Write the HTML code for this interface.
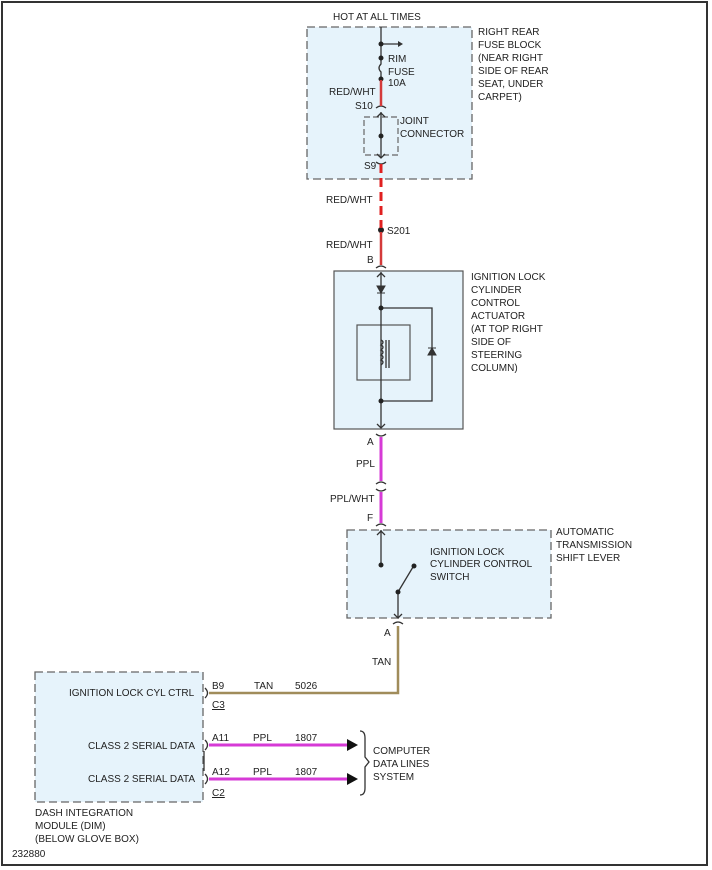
<!DOCTYPE html>
<html><head><meta charset="utf-8"><style>
html,body{margin:0;padding:0;background:#fff;}
svg{display:block;}
text{font-family:"Liberation Sans",Arial,sans-serif;font-size:10px;fill:#222;}
</style></head><body>
<svg width="712" height="870" viewBox="0 0 712 870" xmlns="http://www.w3.org/2000/svg">
<rect x="2" y="2" width="705" height="863" fill="#fff" stroke="#333" stroke-width="2"/>
<g fill="#e6f3fb" stroke="#666" stroke-width="1.3" stroke-dasharray="8,4">
<rect x="307" y="27" width="165" height="152"/>
<rect x="347" y="530" width="204" height="88"/>
<rect x="35" y="672" width="168" height="130"/>
</g>
<rect x="334" y="271" width="129" height="158" fill="#e6f3fb" stroke="#555" stroke-width="1.2"/>
<rect x="364" y="117" width="34" height="38" fill="none" stroke="#666" stroke-width="1.2" stroke-dasharray="6,3"/>
<rect x="357" y="325" width="53" height="55" fill="none" stroke="#555" stroke-width="1.2"/>
<!-- black wiring -->
<g stroke="#333" stroke-width="1.3" fill="none">
<line x1="381" y1="27" x2="381" y2="58"/>
<line x1="381" y1="44" x2="398" y2="44"/>
<path d="M381 58 L381 64 Q377 68 381 72 L381 79"/>
<line x1="381" y1="112" x2="381" y2="158"/>
<path d="M377 117 L381 113 L385 117 M377 154 L381 158 L385 154"/>
<path d="M376 108 Q381 104 386 108 M376 162 Q381 166 386 162"/>
<path d="M376 268 Q381 264 386 268"/>
<line x1="381" y1="272" x2="381" y2="428"/>
<path d="M377 277 L381 273 L385 277 M377 424 L381 428 L385 424"/>
<path d="M381 308 L432 308 L432 401 L381 401"/>
<path d="M381 340 q4 2 0 5 q4 2 0 5 q4 2 0 5 q4 2 0 5 q4 2 0 5"/>
<line x1="386" y1="340" x2="386" y2="368"/><line x1="389" y1="340" x2="389" y2="368"/>
<path d="M376 434 Q381 438 386 434"/>
<path d="M376 484 Q381 480 386 484 M376 489 Q381 493 386 489"/>
<path d="M376 526 Q381 522 386 526"/>
<line x1="381" y1="530" x2="381" y2="565"/>
<path d="M377 535 L381 531 L385 535"/>
<line x1="398" y1="592" x2="413" y2="567"/>
<line x1="398" y1="592" x2="398" y2="618"/>
<path d="M394 614 L398 618 L402 614"/>
<path d="M393 624 Q398 620 403 624"/>
<path d="M205 688 Q210 693 205 698"/>
<path d="M205 740 Q210 745 205 750 M205 774 Q210 779 205 784"/>
<line x1="204" y1="751" x2="204" y2="771"/>
<path d="M360 731 Q365 731 365 738 L365 757 L369 762 L365 767 L365 788 Q365 795 360 795"/>
</g>
<path d="M377 286 L385 286 L381 293 Z M377 293 L385 293" fill="#333" stroke="#333"/>
<path d="M428 355 L436 355 L432 348 Z M428 348 L436 348" fill="#333" stroke="#333"/>
<path d="M398 41 L403 44 L398 47 Z" fill="#333"/>
<g fill="#222">
<circle cx="381" cy="44" r="2.5"/><circle cx="381" cy="58" r="2.5"/><circle cx="381" cy="79" r="2.5"/>
<circle cx="381" cy="136" r="2.5"/><circle cx="381" cy="230" r="3"/>
<circle cx="381" cy="308" r="2.5"/><circle cx="381" cy="401" r="2.5"/>
<circle cx="381" cy="565" r="2.5"/><circle cx="398" cy="592" r="2.5"/><circle cx="414" cy="566" r="2.5"/>
</g>
<!-- colored wires -->
<line x1="381" y1="80" x2="381" y2="106" stroke="#d43a3a" stroke-width="2.5"/>
<line x1="381" y1="164" x2="381" y2="228" stroke="#e02020" stroke-width="3" stroke-dasharray="9,5"/>
<line x1="381" y1="232" x2="381" y2="265" stroke="#d43a3a" stroke-width="2.5"/>
<line x1="381" y1="437" x2="381" y2="481" stroke="#d63ad6" stroke-width="3"/>
<line x1="381" y1="492" x2="381" y2="523" stroke="#d63ad6" stroke-width="3"/>
<path d="M398 626 L398 693 L209 693" fill="none" stroke="#a08c5a" stroke-width="2.5"/>
<line x1="209" y1="745" x2="348" y2="745" stroke="#d63ad6" stroke-width="3"/>
<line x1="209" y1="779" x2="348" y2="779" stroke="#d63ad6" stroke-width="3"/>
<path d="M347 739 L358 745 L347 751 Z M347 773 L358 779 L347 785 Z" fill="#111"/>
<!-- text -->
<text x="333" y="20">HOT AT ALL TIMES</text>
<text x="478" y="35">RIGHT REAR</text><text x="478" y="48">FUSE BLOCK</text><text x="478" y="61">(NEAR RIGHT</text><text x="478" y="74">SIDE OF REAR</text><text x="478" y="87">SEAT, UNDER</text><text x="478" y="100">CARPET)</text>
<text x="388" y="62">RIM</text><text x="388" y="75">FUSE</text><text x="388" y="86">10A</text>
<text x="329" y="95">RED/WHT</text>
<text x="355" y="109">S10</text>
<text x="400" y="124">JOINT</text><text x="400" y="137">CONNECTOR</text>
<text x="364" y="169">S9</text>
<text x="326" y="203">RED/WHT</text>
<text x="387" y="234">S201</text>
<text x="326" y="248">RED/WHT</text>
<text x="367" y="263">B</text>
<text x="471" y="280">IGNITION LOCK</text><text x="471" y="293">CYLINDER</text><text x="471" y="306">CONTROL</text><text x="471" y="319">ACTUATOR</text><text x="471" y="332">(AT TOP RIGHT</text><text x="471" y="345">SIDE OF</text><text x="471" y="358">STEERING</text><text x="471" y="371">COLUMN)</text>
<text x="367" y="445">A</text>
<text x="356" y="467">PPL</text>
<text x="330" y="502">PPL/WHT</text>
<text x="367" y="521">F</text>
<text x="556" y="535">AUTOMATIC</text><text x="556" y="548">TRANSMISSION</text><text x="556" y="561">SHIFT LEVER</text>
<text x="430" y="555">IGNITION LOCK</text><text x="430" y="567">CYLINDER CONTROL</text><text x="430" y="580">SWITCH</text>
<text x="384" y="636">A</text>
<text x="372" y="665">TAN</text>
<text x="69" y="696">IGNITION LOCK CYL CTRL</text>
<text x="212" y="689">B9</text><text x="254" y="689">TAN</text><text x="295" y="689">5026</text>
<text x="212" y="708" text-decoration="underline">C3</text>
<text x="88" y="749">CLASS 2 SERIAL DATA</text>
<text x="212" y="741">A11</text><text x="253" y="741">PPL</text><text x="295" y="741">1807</text>
<text x="88" y="782">CLASS 2 SERIAL DATA</text>
<text x="212" y="775">A12</text><text x="253" y="775">PPL</text><text x="295" y="775">1807</text>
<text x="212" y="796" text-decoration="underline">C2</text>
<text x="373" y="754">COMPUTER</text><text x="373" y="767">DATA LINES</text><text x="373" y="780">SYSTEM</text>
<text x="35" y="816">DASH INTEGRATION</text><text x="35" y="829">MODULE (DIM)</text><text x="35" y="842">(BELOW GLOVE BOX)</text>
<text x="12" y="857">232880</text>
</svg>
</body></html>
